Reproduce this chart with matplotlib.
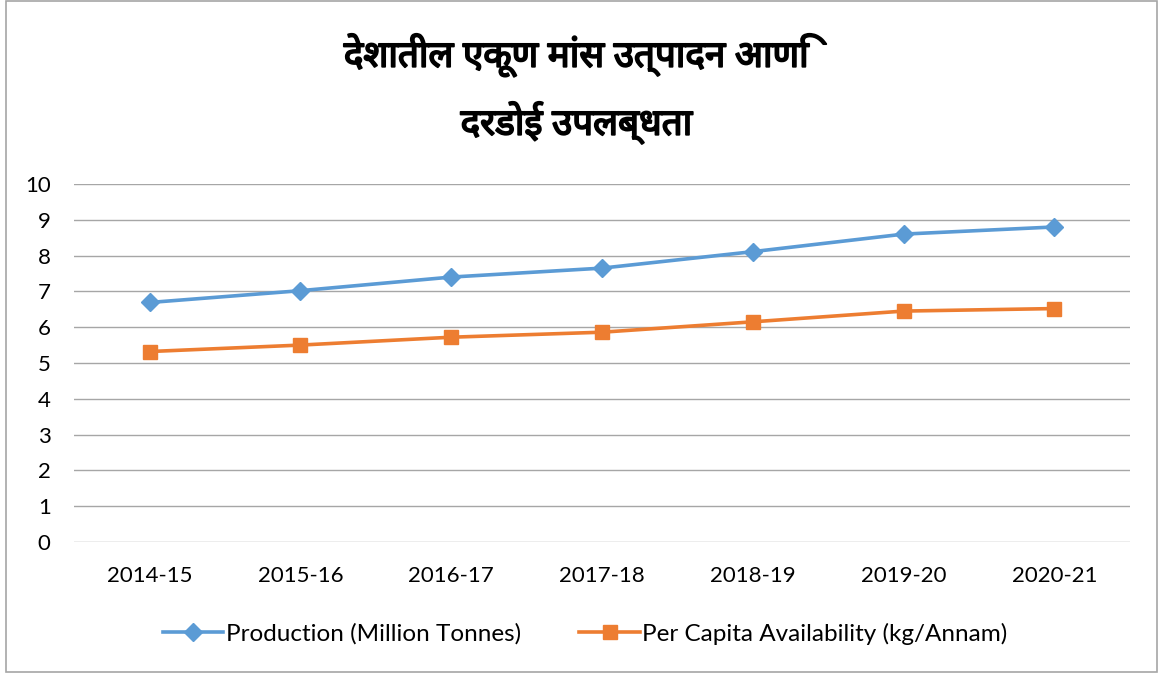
import matplotlib
matplotlib.use("Agg")
import matplotlib.pyplot as plt
import matplotlib.patheffects as pe
from matplotlib.patches import Rectangle

# Data
years = ['2014-15', '2015-16', '2016-17', '2017-18', '2018-19', '2019-20', '2020-21']
production = [6.69, 7.02, 7.40, 7.65, 8.11, 8.60, 8.80]  # million tonnes
per_capita = [5.32, 5.50, 5.72, 5.86, 6.15, 6.45, 6.52]  # kg/annum
title_text = 'देशातील एकूण मांस उत्पादन आणि\nदरडोई उपलब्धता'

plt.rcParams['font.family'] = ['Lato', 'DejaVu Sans']

fig = plt.figure(figsize=(11.6, 6.73), dpi=100)
ax = fig.add_axes([0.064, 0.1947, 0.91, 0.5319])

x = range(len(years))
ax.plot(x, production, color='#5B9BD5', marker='D', markersize=9, linewidth=2.6,
        label='Production (Million Tonnes)')
ax.plot(x, per_capita, color='#ED7D31', marker='s', markersize=9.5, linewidth=2.6,
        label='Per Capita Availability (kg/Annam)')

ax.set_xlim(-0.5, len(years) - 0.5)
ax.set_ylim(0, 10)
ax.set_yticks(range(0, 11))
ax.set_xticks(list(x))
ax.set_xticklabels(years)
ax.tick_params(axis='both', length=0, labelsize=16, colors='black')
ax.tick_params(axis='y', pad=17)
ax.tick_params(axis='x', pad=17)
ax.grid(True, axis='y', color='#a6a6a6', linewidth=1)
ax.set_axisbelow(True)
for s in ax.spines.values():
    s.set_visible(False)

# title (stroke to make it look bold)
fig.text(0.497, 0.868, title_text, ha='center', va='center', fontsize=26.5,
         linespacing=1.75,
         family=['Noto Sans Devanagari', 'Lohit Devanagari', 'Mangal', 'DejaVu Sans'],
         path_effects=[pe.withStroke(linewidth=1.3, foreground='black')])

ax.legend(loc='center', bbox_to_anchor=(0.484, -0.256), ncol=2, frameon=False,
          fontsize=17.5, handlelength=2.5, handletextpad=0.1, columnspacing=2.4)

# outer chart border
fig.patches.append(Rectangle((0.0052, 0.0015), 0.9922, 0.997, transform=fig.transFigure,
                             fill=False, edgecolor='#a6a6a6', linewidth=1.2))

fig.savefig('out.png', dpi=100)
